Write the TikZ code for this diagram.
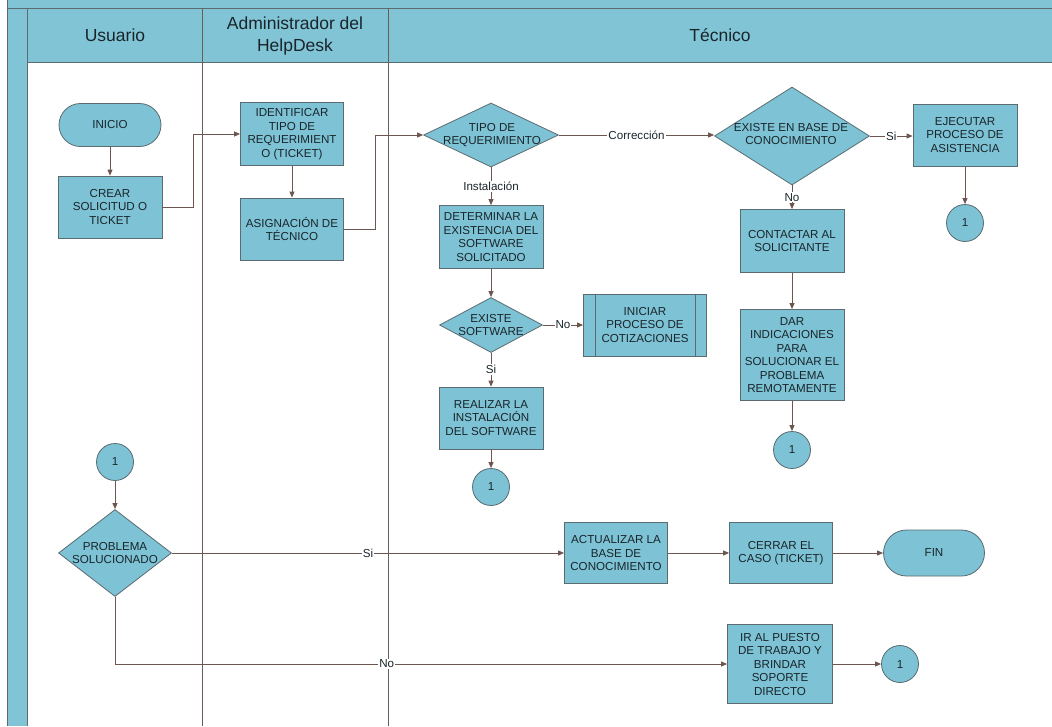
\documentclass[tikz,border=0pt]{standalone}
\usepackage{fontspec}
\setmainfont{Liberation Sans}
\usetikzlibrary{shapes.geometric,shapes.misc,arrows.meta}
\definecolor{lanefill}{HTML}{80C4D6}
\definecolor{nodefill}{HTML}{7DC3D5}
\definecolor{border}{HTML}{5B6B70}
\definecolor{arrowc}{HTML}{6E5650}
\definecolor{lanec}{HTML}{6A5C58}
\definecolor{txt}{HTML}{1A252A}
\newcommand{\nfont}{\fontsize{11.6}{13.5}\selectfont}
\begin{document}
\begin{tikzpicture}[x=1pt,y=-1pt,
  proc/.style={rectangle, draw=border, fill=nodefill, line width=0.8pt, minimum width=104pt, minimum height=62pt, inner sep=1pt, align=center, text=txt, font=\nfont},
  term/.style={rounded rectangle, draw=border, fill=nodefill, line width=0.8pt, minimum width=104pt, minimum height=43pt, inner sep=1pt, text=txt, font=\nfont},
  dec/.style={diamond, draw=border, fill=nodefill, line width=0.8pt, inner sep=0pt},
  dectext/.style={align=center, text=txt, font=\nfont, inner sep=0pt},
  conn/.style={circle, draw=border, fill=nodefill, line width=0.8pt, minimum size=37pt, inner sep=0pt, text=txt, font=\nfont},
  arr/.style={draw=arrowc, line width=0.8pt, -{Triangle[length=6pt,width=5pt]}},
  elbl/.style={fill=white, inner sep=1pt, text=txt, font=\nfont},
  hdr/.style={align=center, text=txt, font=\fontsize{17.5}{21.5}\selectfont},
  lane/.style={draw=lanec, line width=0.8pt},
]
\useasboundingbox (0,0) rectangle (1052,726);
\fill[white] (0,0) rectangle (1052,726);
% pool frame
\fill[lanefill] (7,0) rectangle (1052,8);
\fill[lanefill] (7,0) rectangle (27,726);
\fill[lanefill] (27,8) rectangle (1052,62);
\draw[draw=border, line width=0.9pt] (7,0) -- (7,726);
\draw[draw=border, line width=0.9pt] (7,8) -- (1052,8);
\draw[draw=border, line width=0.9pt] (27,8) -- (27,726);
\draw[draw=border, line width=0.9pt] (27,62) -- (1052,62);
\draw[lane] (202,8) -- (202,726);
\draw[lane] (388,8) -- (388,726);
% headers
\node[hdr] (hU) at (115,35) {Usuario};
\node[hdr] (hA) at (295,36) {Administrador del\\HelpDesk};
\node[hdr] (hT) at (720,35) {Técnico};

% nodes
\node[term] (inicio) at (110,125) {INICIO};
\node[proc] (crear) at (110,207) {CREAR\\SOLICITUD O\\TICKET};
\node[proc, minimum width=103pt, minimum height=63pt] (ident) at (292,134) {IDENTIFICAR\\TIPO DE\\REQUERIMIENT\\O (TICKET)};
\node[proc, minimum width=103pt] (asig) at (292,229) {ASIGNACIÓN DE\\TÉCNICO};

\node[dec, minimum width=135pt, minimum height=64pt] (tipo) at (491,135) {};
\node[dectext] (tipot) at (492,135) {TIPO DE\\REQUERIMIENTO};
\node[dec, minimum width=155pt, minimum height=98pt] (exbase) at (792,136) {};
\node[dectext] (exbaset) at (791,134) {EXISTE EN BASE DE\\CONOCIMIENTO};
\node[proc] (ejec) at (965,135) {EJECUTAR\\PROCESO DE\\ASISTENCIA};
\node[conn] (c1) at (965,223) {1};
\node[proc, minimum height=63pt] (contact) at (792,241) {CONTACTAR AL\\SOLICITANTE};
\node[proc, minimum height=91pt] (dar) at (792,355) {DAR\\INDICACIONES\\PARA\\SOLUCIONAR EL\\PROBLEMA\\REMOTAMENTE};
\node[conn] (c2) at (792,450) {1};

\node[proc, minimum height=63pt] (det) at (491,237) {DETERMINAR LA\\EXISTENCIA DEL\\SOFTWARE\\SOLICITADO};
\node[dec, minimum width=103pt, minimum height=55pt] (exsw) at (491,325) {};
\node[dectext] (exswt) at (491,325) {EXISTE\\SOFTWARE};
\node[proc, minimum width=123pt] (inic) at (645,325) {INICIAR\\PROCESO DE\\COTIZACIONES};
\draw[draw=border, line width=0.8pt] ([xshift=12pt]inic.north west) -- ([xshift=12pt]inic.south west);
\draw[draw=border, line width=0.8pt] ([xshift=-12pt]inic.north east) -- ([xshift=-12pt]inic.south east);
\node[proc] (real) at (491,418) {REALIZAR LA\\INSTALACIÓN\\DEL SOFTWARE};
\node[conn] (c3) at (491,487) {1};

\node[conn] (c4) at (115,462) {1};
\node[dec, minimum width=113pt, minimum height=87pt] (prob) at (115,553) {};
\node[dectext] (probt) at (115,553) {PROBLEMA\\SOLUCIONADO};
\node[proc, minimum width=103pt, minimum height=61pt] (act) at (616,553) {ACTUALIZAR LA\\BASE DE\\CONOCIMIENTO};
\node[proc, minimum width=103pt, minimum height=61pt] (cerrar) at (781,553) {CERRAR EL\\CASO (TICKET)};
\node[term, minimum width=103pt, minimum height=46pt] (fin) at (934,553) {FIN};
\node[proc, minimum width=105pt, minimum height=79pt] (ir) at (780,664) {IR AL PUESTO\\DE TRABAJO Y\\BRINDAR\\SOPORTE\\DIRECTO};
\node[conn] (c5) at (900,664) {1};

% connectors
\draw[arr] (inicio.south) -- (crear.north);
\draw[arr] (crear.east) -- ++(31,0) |- (ident.west);
\draw[arr] (ident.south) -- (asig.north);
\draw[arr] (asig.east) -- ++(31,0) |- (tipo.west);
\draw[arr] (tipo.east) -- node[elbl] {Corrección} (tipo.east -| exbase.west);
\draw[arr] (exbase.east) -- node[elbl] {Si} (exbase.east -| ejec.west);
\draw[arr] (ejec.south) -- (c1.north);
\draw[arr] (exbase.south) -- node[elbl] {No} (contact.north);
\draw[arr] (contact.south) -- (dar.north);
\draw[arr] (dar.south) -- (c2.north);
\draw[arr] (tipo.south) -- node[elbl] {Instalación} (det.north);
\draw[arr] (det.south) -- (exsw.north);
\draw[arr] (exsw.east) -- node[elbl] {No} (inic.west);
\draw[arr] (exsw.south) -- node[elbl] {Si} (real.north);
\draw[arr] (real.south) -- (c3.north);
\draw[arr] (c4.south) -- (prob.north);
\draw[arr] (prob.east) -- node[elbl] {Si} (act.west);
\draw[arr] (act.east) -- (cerrar.west);
\draw[arr] (cerrar.east) -- (fin.west);
\draw[arr] (prob.south) |- node[elbl, pos=0.722] {No} (ir.west);
\draw[arr] (ir.east) -- (c5.west);
\end{tikzpicture}
\end{document}
